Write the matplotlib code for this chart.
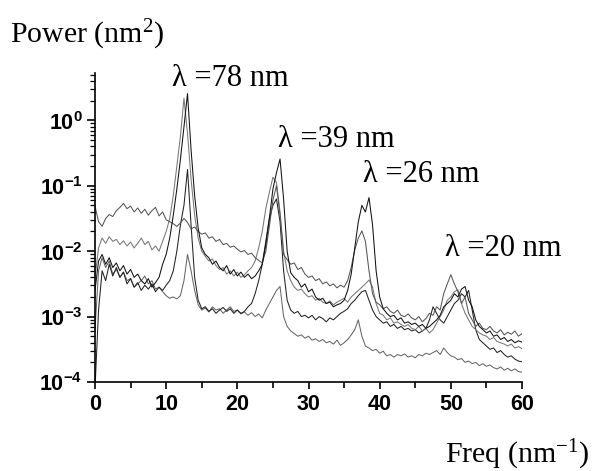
import numpy as np
import matplotlib
matplotlib.use("Agg")
import matplotlib.pyplot as plt
from matplotlib.ticker import FixedLocator, FixedFormatter, LogLocator, NullFormatter

plt.rcParams['mathtext.fontset'] = 'custom'
plt.rcParams['mathtext.rm'] = 'Liberation Serif'
plt.rcParams['mathtext.bf'] = 'Liberation Sans:bold'
plt.rcParams['mathtext.default'] = 'rm'

# frequency grid (nm^-1)
freq = [i * 0.5 for i in range(121)]

# log10 of power (nm^2)
log_power_a = [
    -1.31, -1.55, -1.62, -1.50, -1.44, -1.47, -1.38, -1.33, -1.27, -1.35,
    -1.31, -1.40, -1.34, -1.42, -1.36, -1.45, -1.38, -1.33, -1.46, -1.40,
    -1.52, -1.55, -1.58, -1.62, -1.57, -1.50, -1.56, -1.66, -1.63, -1.70,
    -1.74, -1.72, -1.80, -1.78, -1.85, -1.82, -1.90, -1.88, -1.94, -1.92,
    -1.97, -2.01, -1.99, -2.05, -2.03, -2.10, -2.14, -2.18, -2.00, -1.62,
    -1.22, -1.00, -1.45, -2.05, -2.13, -2.20, -2.18, -2.28, -2.25, -2.35,
    -2.40, -2.38, -2.45, -2.42, -2.50, -2.47, -2.53, -2.50, -2.56, -2.52,
    -2.55, -2.45, -2.25, -1.98, -1.80, -1.69, -1.85, -2.30, -2.65, -2.78,
    -2.82, -2.88, -2.85, -2.92, -2.95, -2.90, -2.98, -3.00, -2.96, -3.02,
    -3.05, -3.00, -3.08, -3.03, -2.95, -2.98, -2.85, -2.90, -2.65, -2.50,
    -2.36, -2.50, -2.62, -2.80, -2.70, -2.95, -3.05, -3.15, -3.10, -3.18,
    -3.20, -3.15, -3.22, -3.25, -3.20, -3.28, -3.24, -3.27, -3.22, -3.30,
    -3.26]

log_power_b = [
    -2.60, -2.15, -2.05, -2.20, -2.10, -2.25, -2.18, -2.30, -2.22, -2.35,
    -2.28, -2.40, -2.35, -2.45, -2.50, -2.42, -2.55, -2.48, -2.40, -2.20,
    -2.05, -1.80, -1.45, -1.05, -0.60, -0.10, 0.41, -0.45, -1.15, -1.65,
    -1.95, -2.05, -2.10, -2.20, -2.15, -2.25, -2.30, -2.22, -2.35, -2.28,
    -2.38, -2.32, -2.40, -2.35, -2.42, -2.38, -2.30, -2.20, -1.90, -1.50,
    -1.05, -0.80, -0.59, -1.20, -2.00, -2.33, -2.40, -2.45, -2.55, -2.50,
    -2.62, -2.58, -2.70, -2.75, -2.72, -2.80, -2.78, -2.85, -2.82, -2.80,
    -2.75, -2.60, -2.35, -1.95, -1.55, -1.30, -1.40, -1.18, -1.60, -2.30,
    -2.70, -2.88, -2.95, -3.00, -2.98, -3.05, -3.02, -3.10, -3.08, -3.12,
    -3.10, -3.15, -3.12, -3.18, -3.15, -3.10, -3.05, -2.98, -2.85, -2.80,
    -2.75, -2.65, -2.70, -2.58, -2.54, -2.75, -2.85, -3.05, -3.15, -3.20,
    -3.25, -3.22, -3.30, -3.28, -3.35, -3.32, -3.38, -3.35, -3.40, -3.37,
    -3.39]

log_power_c = [
    -2.40, -1.95, -1.80, -1.88, -1.78, -1.85, -1.82, -1.90, -1.84, -1.92,
    -1.86, -1.95, -1.88, -1.80, -1.90, -1.85, -1.98, -1.92, -2.00, -1.85,
    -1.70, -1.50, -1.15, -0.70, -0.25, 0.34, -0.20, -0.90, -1.45, -1.80,
    -2.00, -2.08, -2.15, -2.12, -2.22, -2.28, -2.25, -2.35, -2.30, -2.38,
    -2.32, -2.40, -2.36, -2.30, -2.25, -2.15, -1.95, -1.70, -1.35, -1.10,
    -0.87, -0.95, -1.40, -2.00, -2.30, -2.45, -2.55, -2.60, -2.58, -2.65,
    -2.70, -2.68, -2.75, -2.72, -2.78, -2.80, -2.76, -2.82, -2.78, -2.75,
    -2.72, -2.78, -2.70, -2.65, -2.60, -2.55, -2.50, -2.44, -2.55, -2.80,
    -2.95, -2.98, -3.05, -3.02, -3.10, -3.08, -3.12, -3.15, -3.12, -3.18,
    -3.20, -3.15, -3.22, -3.18, -3.25, -3.20, -3.10, -3.00, -2.90, -2.75,
    -2.70, -2.62, -2.59, -2.80, -2.95, -3.05, -3.15, -3.20, -3.25, -3.28,
    -3.30, -3.35, -3.32, -3.38, -3.40, -3.42, -3.45, -3.42, -3.48, -3.46,
    -3.49]

log_power_d = [
    -4.10, -2.90, -2.30, -2.45, -2.20, -2.38, -2.25, -2.40, -2.32, -2.50,
    -2.42, -2.55, -2.48, -2.60, -2.52, -2.58, -2.50, -2.62, -2.55, -2.60,
    -2.52, -2.45, -2.30, -2.00, -1.60, -1.30, -0.75, -1.60, -2.40, -2.75,
    -2.88, -2.85, -2.92, -2.88, -2.95, -2.90, -2.86, -2.92, -2.88, -2.95,
    -2.90, -2.95, -2.92, -2.85, -2.80, -2.65, -2.45, -2.20, -1.85, -1.50,
    -1.30, -1.20, -1.55, -2.30, -2.75, -2.90, -2.95, -2.92, -3.00, -2.98,
    -3.02, -2.98, -3.05, -3.00, -3.03, -3.08, -3.02, -3.05, -3.00, -2.95,
    -2.92, -2.88, -2.80, -2.75, -2.68, -2.62, -2.60, -2.75, -2.90, -3.00,
    -3.05, -3.10, -3.08, -3.15, -3.12, -3.18, -3.15, -3.20, -3.18, -3.22,
    -3.20, -3.25, -3.22, -3.18, -3.05, -2.85, -2.95, -3.05, -3.10, -3.00,
    -2.90, -2.80, -2.75, -2.65, -2.70, -2.60, -2.90, -3.20, -3.35, -3.40,
    -3.45, -3.50, -3.48, -3.55, -3.52, -3.58, -3.62, -3.60, -3.65, -3.68,
    -3.69]

log_power_e = [
    -3.20, -2.30, -2.10, -2.25, -2.15, -2.35, -2.28, -2.40, -2.32, -2.45,
    -2.42, -2.55, -2.50, -2.45, -2.38, -2.50, -2.45, -2.58, -2.55, -2.62,
    -2.68, -2.72, -2.70, -2.73, -2.68, -2.45, -2.05, -2.30, -2.60, -2.82,
    -2.90, -2.87, -2.93, -2.85, -2.90, -2.88, -2.95, -2.90, -2.85, -2.92,
    -2.90, -2.96, -2.93, -2.98, -2.94, -3.00, -2.96, -3.02, -2.90, -2.80,
    -2.70, -2.60, -2.54, -3.00, -3.15, -3.22, -3.26, -3.30, -3.28, -3.33,
    -3.30, -3.36, -3.34, -3.38, -3.35, -3.40, -3.38, -3.42, -3.36, -3.44,
    -3.40, -3.35, -3.28, -3.20, -3.05, -3.30, -3.45, -3.48, -3.52, -3.50,
    -3.56, -3.53, -3.60, -3.58, -3.62, -3.58, -3.60, -3.57, -3.62, -3.60,
    -3.63, -3.58, -3.60, -3.56, -3.58, -3.55, -3.52, -3.58, -3.48, -3.55,
    -3.60, -3.62, -3.66, -3.64, -3.70, -3.68, -3.72, -3.70, -3.75, -3.72,
    -3.76, -3.74, -3.78, -3.80, -3.77, -3.82, -3.79, -3.83, -3.80, -3.84,
    -3.85]

series = [log_power_e, log_power_d, log_power_c, log_power_a, log_power_b]
colors = ['#666666', '#222222', '#777777', '#555555', '#111111']

peak_labels = ['λ =78 nm', 'λ =39 nm', 'λ =26 nm', 'λ =20 nm']
peak_label_x = [10.8, 25.7, 37.6, 49.2]
peak_label_y = [3.4, 0.39, 0.115, 0.0083]

x_ticks = [0, 10, 20, 30, 40, 50, 60]
x_minor = [5, 15, 25, 35, 45, 55]
y_ticks = [1e-4, 1e-3, 1e-2, 1e-1, 1e0]
y_tick_labels = [r'$\mathbf{10^{-4}}$', r'$\mathbf{10^{-3}}$', r'$\mathbf{10^{-2}}$',
                 r'$\mathbf{10^{-1}}$', r'$\mathbf{10^{0}}$']

fig = plt.figure(figsize=(6.01, 4.71), dpi=100)
ax = fig.add_axes([95 / 601, 1 - 382 / 471, (522 - 95) / 601, (382 - 73) / 471])

fr = np.array(freq)
for lp, c in zip(series, colors):
    ax.plot(fr, 10 ** np.array(lp), color=c, lw=0.75)

ax.set_yscale('log')
ax.set_xlim(0, 60)
ax.set_ylim(1e-4, 5.3)

for s in ['top', 'right']:
    ax.spines[s].set_visible(False)
for s in ['left', 'bottom']:
    ax.spines[s].set_linewidth(1.2)

ax.xaxis.set_major_locator(FixedLocator(x_ticks))
ax.xaxis.set_minor_locator(FixedLocator(x_minor))
ax.set_xticklabels([str(t) for t in x_ticks])
ax.yaxis.set_major_locator(FixedLocator(y_ticks))
ax.yaxis.set_major_formatter(FixedFormatter(y_tick_labels))
ax.yaxis.set_minor_locator(LogLocator(base=10, subs=[2, 3, 4, 5, 6, 7, 8, 9], numticks=20))
ax.yaxis.set_minor_formatter(NullFormatter())

ax.tick_params(axis='x', which='major', direction='out', length=5, width=1.2, pad=4)
ax.tick_params(axis='x', which='minor', direction='out', length=4, width=1.2)
ax.tick_params(axis='y', which='major', direction='out', length=6, width=1.2, pad=3)
ax.tick_params(axis='y', which='minor', direction='out', length=3.5, width=0.9)
for lab in ax.get_xticklabels():
    lab.set_fontfamily('Liberation Sans')
    lab.set_fontweight('bold')
    lab.set_fontsize(15.5)
for lab in ax.get_yticklabels():
    lab.set_fontsize(15.5)

for t, x, y in zip(peak_labels, peak_label_x, peak_label_y):
    ax.text(x, y, t, fontsize=22, family='Liberation Serif', ha='left', va='baseline')

fig.text(10 / 601, 1 - 43 / 471, 'Power (nm$^{2}$)', fontsize=21.5,
         family='Liberation Serif', ha='left', va='baseline')
fig.text(445 / 601, 1 - 463 / 471, 'Freq (nm$^{-1}$)', fontsize=21.5,
         family='Liberation Serif', ha='left', va='baseline')

fig.savefig('out.png', dpi=100)
